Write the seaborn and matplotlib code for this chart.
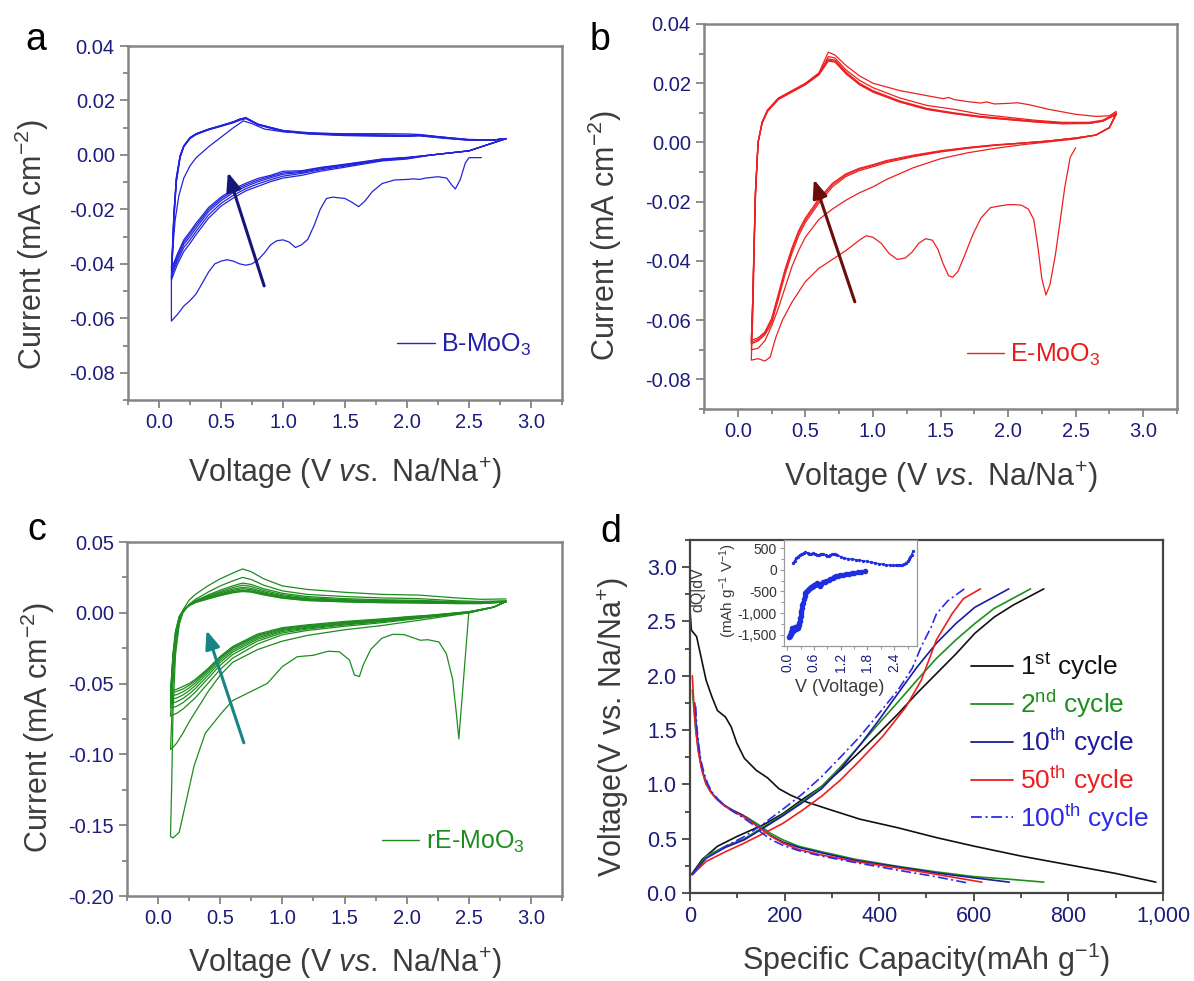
import numpy as np
import pandas as pd
import matplotlib
matplotlib.use("Agg")
import matplotlib.pyplot as plt
import seaborn as sns
from matplotlib.ticker import MultipleLocator, FuncFormatter, FormatStrFormatter
from matplotlib.lines import Line2D

# ---------------- Panel a: B-MoO3 ----------------
A_C1_V = [2.60, 2.50, 2.47, 2.43, 2.39, 2.36, 2.32, 2.25, 2.15, 2.10, 2.05, 2.00, 1.90, 1.80, 1.72, 1.66, 1.61, 1.56, 1.50, 1.40,
          1.35, 1.30, 1.25, 1.20, 1.15, 1.10, 1.05, 1.00, 0.95, 0.90, 0.85, 0.80, 0.75, 0.70, 0.65, 0.60, 0.55, 0.50, 0.45, 0.40,
          0.35, 0.30, 0.25, 0.20, 0.15, 0.10]
A_C1_I = [-0.0010, -0.0010, -0.0030, -0.0090, -0.0125, -0.0110, -0.0085, -0.0080, -0.0085, -0.0090, -0.0088, -0.0090, -0.0092,
          -0.0105, -0.0135, -0.0170, -0.0190, -0.0175, -0.0160, -0.0155, -0.0160, -0.0200, -0.0260, -0.0310, -0.0330, -0.0340,
          -0.0320, -0.0312, -0.0315, -0.0330, -0.0360, -0.0385, -0.0400, -0.0405, -0.0400, -0.0390, -0.0385, -0.0390, -0.0400,
          -0.0430, -0.0470, -0.0510, -0.0535, -0.0555, -0.0585, -0.0610]
A_A1_V = [0.10, 0.10, 0.11, 0.13, 0.16, 0.20, 0.25, 0.30, 0.40, 0.50, 0.60, 0.68, 0.75, 0.85, 1.00, 1.20, 1.50, 1.80, 2.00, 2.10,
          2.30, 2.50, 2.70, 2.80]
A_A1_I = [-0.0610, -0.0450, -0.0350, -0.0240, -0.0150, -0.0085, -0.0040, -0.0010, 0.0030, 0.0065, 0.0100, 0.0125, 0.0115, 0.0095,
          0.0085, 0.0080, 0.0078, 0.0078, 0.0077, 0.0075, 0.0065, 0.0055, 0.0055, 0.0060]
A_CATH_V = [2.80, 2.70, 2.50, 2.20, 2.00, 1.80, 1.50, 1.30, 1.15, 1.00, 0.90, 0.80, 0.70, 0.60, 0.50, 0.40, 0.35, 0.30, 0.25, 0.20,
            0.15, 0.12, 0.10]
A_CATH = {
    2: [0.0060, 0.0045, 0.0015, 0.0000, -0.0015, -0.0022, -0.0045, -0.0060, -0.0075, -0.0085, -0.0098, -0.0115, -0.0132, -0.0158,
        -0.0188, -0.0232, -0.0262, -0.0292, -0.0325, -0.0355, -0.0400, -0.0435, -0.0460],
    3: [0.0060, 0.0045, 0.0015, 0.0000, -0.0013, -0.0020, -0.0041, -0.0055, -0.0068, -0.0078, -0.0091, -0.0106, -0.0124, -0.0148,
        -0.0178, -0.0220, -0.0250, -0.0280, -0.0312, -0.0340, -0.0388, -0.0422, -0.0448],
    4: [0.0060, 0.0045, 0.0015, 0.0000, -0.0011, -0.0018, -0.0038, -0.0051, -0.0064, -0.0071, -0.0084, -0.0098, -0.0116, -0.0138,
        -0.0168, -0.0208, -0.0238, -0.0268, -0.0300, -0.0328, -0.0378, -0.0412, -0.0435],
    5: [0.0060, 0.0045, 0.0015, 0.0000, -0.0010, -0.0016, -0.0036, -0.0048, -0.0061, -0.0066, -0.0079, -0.0092, -0.0110, -0.0131,
        -0.0161, -0.0200, -0.0230, -0.0258, -0.0290, -0.0320, -0.0370, -0.0404, -0.0425],
    6: [0.0060, 0.0045, 0.0015, 0.0000, -0.0009, -0.0015, -0.0034, -0.0046, -0.0058, -0.0060, -0.0075, -0.0086, -0.0104, -0.0125,
        -0.0155, -0.0193, -0.0222, -0.0250, -0.0282, -0.0312, -0.0362, -0.0396, -0.0415],
}
A_ANOD_V = [0.10, 0.11, 0.12, 0.14, 0.17, 0.20, 0.25, 0.30, 0.40, 0.50, 0.60, 0.65, 0.70, 0.80, 1.00, 1.20, 1.50, 1.80, 2.00, 2.10,
            2.30, 2.50, 2.70, 2.80]
A_ANOD = {
    2: [-0.0460, -0.0360, -0.0240, -0.0100, -0.0010, 0.0030, 0.0060, 0.0075, 0.0092, 0.0105, 0.0118, 0.0127, 0.0133, 0.0112,
        0.0090, 0.0082, 0.0076, 0.0073, 0.0072, 0.0072, 0.0065, 0.0057, 0.0055, 0.0060],
    3: [-0.0448, -0.0350, -0.0232, -0.0095, -0.0008, 0.0031, 0.0061, 0.0076, 0.0093, 0.0106, 0.0120, 0.0130, 0.0136, 0.0113,
        0.0089, 0.0080, 0.0074, 0.0072, 0.0071, 0.0074, 0.0064, 0.0056, 0.0055, 0.0060],
    4: [-0.0435, -0.0340, -0.0225, -0.0090, -0.0006, 0.0032, 0.0062, 0.0077, 0.0094, 0.0107, 0.0121, 0.0131, 0.0137, 0.0112,
        0.0088, 0.0079, 0.0073, 0.0071, 0.0070, 0.0072, 0.0063, 0.0055, 0.0055, 0.0060],
    5: [-0.0425, -0.0330, -0.0218, -0.0086, -0.0004, 0.0033, 0.0063, 0.0078, 0.0094, 0.0107, 0.0121, 0.0131, 0.0136, 0.0111,
        0.0087, 0.0078, 0.0072, 0.0070, 0.0069, 0.0071, 0.0062, 0.0054, 0.0055, 0.0060],
    6: [-0.0415, -0.0322, -0.0212, -0.0082, -0.0002, 0.0034, 0.0064, 0.0078, 0.0095, 0.0108, 0.0122, 0.0131, 0.0135, 0.0110,
        0.0086, 0.0077, 0.0071, 0.0069, 0.0068, 0.0070, 0.0061, 0.0054, 0.0055, 0.0060],
}

# ---------------- Panel b: E-MoO3 ----------------
B_C1_V = [2.50, 2.46, 2.42, 2.39, 2.35, 2.31, 2.28, 2.25, 2.22, 2.19, 2.15, 2.10, 2.05, 2.00, 1.93, 1.87, 1.80, 1.74, 1.68, 1.63,
          1.59, 1.56, 1.52, 1.48, 1.44, 1.39, 1.34, 1.29, 1.24, 1.18, 1.12, 1.06, 1.00, 0.95, 0.90, 0.80, 0.70, 0.60, 0.50, 0.40,
          0.33, 0.28, 0.24, 0.20, 0.15, 0.10]
B_C1_I = [-0.0018, -0.0050, -0.0150, -0.0250, -0.0380, -0.0480, -0.0515, -0.0460, -0.0350, -0.0260, -0.0225, -0.0212, -0.0210,
          -0.0210, -0.0215, -0.0220, -0.0255, -0.0310, -0.0380, -0.0435, -0.0455, -0.0450, -0.0410, -0.0360, -0.0330, -0.0325,
          -0.0340, -0.0370, -0.0390, -0.0395, -0.0375, -0.0340, -0.0320, -0.0315, -0.0330, -0.0365, -0.0395, -0.0425, -0.0470,
          -0.0540, -0.0600, -0.0660, -0.0725, -0.0738, -0.0730, -0.0735]
B_A1_V = [0.10, 0.11, 0.12, 0.13, 0.15, 0.18, 0.22, 0.30, 0.40, 0.50, 0.60, 0.67, 0.72, 0.80, 0.90, 1.00, 1.20, 1.40, 1.52, 1.56,
          1.60, 1.70, 1.80, 1.84, 1.90, 2.00, 2.07, 2.15, 2.30, 2.50, 2.65, 2.75, 2.80]
B_A1_I = [-0.0735, -0.0600, -0.0400, -0.0200, 0.0000, 0.0070, 0.0110, 0.0150, 0.0175, 0.0200, 0.0235, 0.0305, 0.0295, 0.0260,
          0.0225, 0.0200, 0.0175, 0.0158, 0.0148, 0.0152, 0.0145, 0.0138, 0.0133, 0.0137, 0.0130, 0.0132, 0.0134, 0.0128, 0.0112,
          0.0095, 0.0088, 0.0090, 0.0105]
B_CATH_V = [2.80, 2.75, 2.65, 2.50, 2.30, 2.10, 1.90, 1.70, 1.50, 1.30, 1.10, 1.00, 0.90, 0.80, 0.70, 0.60, 0.50, 0.45, 0.40, 0.35,
            0.30, 0.25, 0.20, 0.15, 0.10]
B_CATH = {
    2: [0.0095, 0.0050, 0.0025, 0.0012, 0.0002, -0.0008, -0.0020, -0.0035, -0.0055, -0.0085, -0.0125, -0.0150, -0.0170, -0.0195,
        -0.0225, -0.0260, -0.0320, -0.0365, -0.0420, -0.0490, -0.0560, -0.0620, -0.0670, -0.0695, -0.0700],
    3: [0.0095, 0.0050, 0.0025, 0.0015, 0.0005, -0.0003, -0.0010, -0.0020, -0.0032, -0.0048, -0.0068, -0.0082, -0.0095, -0.0115,
        -0.0150, -0.0205, -0.0270, -0.0315, -0.0375, -0.0445, -0.0530, -0.0610, -0.0650, -0.0670, -0.0680],
    4: [0.0098, 0.0050, 0.0025, 0.0015, 0.0005, -0.0002, -0.0009, -0.0018, -0.0030, -0.0045, -0.0064, -0.0078, -0.0090, -0.0110,
        -0.0143, -0.0197, -0.0262, -0.0305, -0.0365, -0.0435, -0.0520, -0.0600, -0.0645, -0.0665, -0.0675],
    5: [0.0100, 0.0050, 0.0025, 0.0015, 0.0005, -0.0002, -0.0008, -0.0017, -0.0028, -0.0043, -0.0061, -0.0075, -0.0087, -0.0106,
        -0.0138, -0.0190, -0.0255, -0.0298, -0.0357, -0.0428, -0.0512, -0.0595, -0.0640, -0.0660, -0.0668],
}
B_ANOD_V = [0.10, 0.11, 0.12, 0.13, 0.15, 0.18, 0.22, 0.30, 0.40, 0.50, 0.60, 0.67, 0.72, 0.80, 0.90, 1.00, 1.20, 1.40, 1.60, 1.80,
            2.00, 2.20, 2.40, 2.60, 2.70, 2.80]
B_ANOD = {
    2: [-0.0700, -0.0560, -0.0370, -0.0180, 0.0000, 0.0068, 0.0108, 0.0148, 0.0173, 0.0198, 0.0232, 0.0290, 0.0285, 0.0245, 0.0210,
        0.0185, 0.0150, 0.0125, 0.0112, 0.0095, 0.0085, 0.0075, 0.0068, 0.0068, 0.0075, 0.0100],
    3: [-0.0680, -0.0545, -0.0360, -0.0175, 0.0000, 0.0067, 0.0107, 0.0147, 0.0172, 0.0197, 0.0230, 0.0282, 0.0278, 0.0238, 0.0200,
        0.0175, 0.0140, 0.0115, 0.0100, 0.0088, 0.0080, 0.0072, 0.0066, 0.0066, 0.0072, 0.0095],
    4: [-0.0675, -0.0540, -0.0355, -0.0172, 0.0000, 0.0066, 0.0106, 0.0146, 0.0171, 0.0196, 0.0229, 0.0278, 0.0274, 0.0235, 0.0197,
        0.0172, 0.0138, 0.0113, 0.0098, 0.0086, 0.0078, 0.0070, 0.0064, 0.0065, 0.0072, 0.0095],
    5: [-0.0668, -0.0535, -0.0350, -0.0170, 0.0000, 0.0065, 0.0105, 0.0145, 0.0170, 0.0195, 0.0228, 0.0275, 0.0271, 0.0232, 0.0195,
        0.0170, 0.0136, 0.0111, 0.0097, 0.0085, 0.0077, 0.0069, 0.0063, 0.0064, 0.0072, 0.0095],
}

# ---------------- Panel c: rE-MoO3 ----------------
C_C1_V = [2.50, 2.42, 2.40, 2.37, 2.32, 2.26, 2.17, 2.11, 1.98, 1.89, 1.80, 1.71, 1.65, 1.62, 1.58, 1.54, 1.46, 1.37, 1.25, 1.12,
          1.00, 0.88, 0.72, 0.60, 0.51, 0.38, 0.29, 0.23, 0.17, 0.12, 0.10]
C_C1_I = [0.0000, -0.0890, -0.0710, -0.0470, -0.0290, -0.0206, -0.0190, -0.0194, -0.0154, -0.0152, -0.0180, -0.0260, -0.0370,
          -0.0450, -0.0440, -0.0334, -0.0276, -0.0271, -0.0300, -0.0310, -0.0380, -0.0498, -0.0568, -0.0620, -0.0708, -0.0850,
          -0.1080, -0.1315, -0.1550, -0.1590, -0.1580]
C_A1_V = [0.10, 0.11, 0.12, 0.14, 0.17, 0.20, 0.25, 0.30, 0.40, 0.50, 0.55, 0.60, 0.68, 0.75, 0.85, 1.00, 1.20, 1.50, 1.80, 2.10,
          2.40, 2.60, 2.80]
C_A1_I = [-0.1580, -0.1200, -0.0700, -0.0300, -0.0080, 0.0020, 0.0090, 0.0130, 0.0190, 0.0240, 0.0260, 0.0280, 0.0310, 0.0290,
          0.0240, 0.0190, 0.0165, 0.0145, 0.0130, 0.0125, 0.0105, 0.0095, 0.0098]
C_CATH_V = [2.80, 2.70, 2.50, 2.20, 2.00, 1.80, 1.50, 1.20, 1.00, 0.80, 0.60, 0.50, 0.40, 0.30, 0.25, 0.20, 0.15, 0.12, 0.10]
C_CATH = {
    2: [0.0080, 0.0040, 0.0000, -0.0040, -0.0065, -0.0090, -0.0120, -0.0160, -0.0200, -0.0260, -0.0350, -0.0440, -0.0560, -0.0700,
        -0.0770, -0.0850, -0.0920, -0.0950, -0.0965],
    3: [0.0080, 0.0040, 0.0000, -0.0030, -0.0050, -0.0070, -0.0095, -0.0125, -0.0155, -0.0220, -0.0320, -0.0400, -0.0500, -0.0600,
        -0.0640, -0.0680, -0.0710, -0.0720, -0.0730],
    4: [0.0080, 0.0040, 0.0000, -0.0026, -0.0044, -0.0063, -0.0086, -0.0115, -0.0142, -0.0200, -0.0295, -0.0370, -0.0465, -0.0560,
        -0.0600, -0.0635, -0.0660, -0.0668, -0.0672],
    5: [0.0080, 0.0040, 0.0003, -0.0023, -0.0040, -0.0058, -0.0080, -0.0108, -0.0132, -0.0187, -0.0278, -0.0350, -0.0443, -0.0535,
        -0.0573, -0.0605, -0.0628, -0.0635, -0.0638],
    6: [0.0080, 0.0040, 0.0005, -0.0021, -0.0037, -0.0054, -0.0075, -0.0102, -0.0124, -0.0176, -0.0265, -0.0335, -0.0425, -0.0513,
        -0.0550, -0.0580, -0.0602, -0.0608, -0.0610],
    7: [0.0080, 0.0040, 0.0006, -0.0019, -0.0034, -0.0050, -0.0070, -0.0096, -0.0117, -0.0166, -0.0253, -0.0322, -0.0410, -0.0495,
        -0.0530, -0.0558, -0.0578, -0.0584, -0.0585],
    8: [0.0080, 0.0040, 0.0007, -0.0018, -0.0031, -0.0047, -0.0066, -0.0091, -0.0111, -0.0158, -0.0245, -0.0315, -0.0402, -0.0480,
        -0.0512, -0.0538, -0.0555, -0.0562, -0.0565],
    9: [0.0080, 0.0040, 0.0008, -0.0016, -0.0028, -0.0043, -0.0061, -0.0085, -0.0105, -0.0150, -0.0238, -0.0308, -0.0395, -0.0470,
        -0.0500, -0.0520, -0.0540, -0.0547, -0.0550],
}
C_ANOD_V = [0.10, 0.11, 0.12, 0.14, 0.17, 0.20, 0.25, 0.30, 0.40, 0.50, 0.60, 0.68, 0.75, 0.85, 1.00, 1.20, 1.50, 1.80, 2.10, 2.40,
            2.60, 2.80]
C_ANOD = {
    2: [-0.0965, -0.0750, -0.0500, -0.0250, -0.0080, 0.0000, 0.0060, 0.0095, 0.0145, 0.0190, 0.0225, 0.0250, 0.0235, 0.0195,
        0.0155, 0.0130, 0.0115, 0.0105, 0.0100, 0.0085, 0.0080, 0.0085],
    3: [-0.0730, -0.0580, -0.0400, -0.0200, -0.0060, 0.0005, 0.0055, 0.0085, 0.0125, 0.0160, 0.0190, 0.0210, 0.0200, 0.0170,
        0.0138, 0.0115, 0.0100, 0.0092, 0.0088, 0.0078, 0.0075, 0.0082],
    4: [-0.0672, -0.0530, -0.0360, -0.0180, -0.0050, 0.0008, 0.0055, 0.0082, 0.0118, 0.0150, 0.0178, 0.0195, 0.0186, 0.0158,
        0.0128, 0.0106, 0.0093, 0.0086, 0.0083, 0.0074, 0.0072, 0.0080],
    5: [-0.0638, -0.0500, -0.0340, -0.0170, -0.0045, 0.0010, 0.0054, 0.0080, 0.0112, 0.0142, 0.0167, 0.0180, 0.0173, 0.0148,
        0.0120, 0.0100, 0.0088, 0.0082, 0.0079, 0.0071, 0.0070, 0.0079],
    6: [-0.0610, -0.0480, -0.0320, -0.0160, -0.0040, 0.0012, 0.0053, 0.0078, 0.0107, 0.0135, 0.0158, 0.0170, 0.0164, 0.0140,
        0.0114, 0.0095, 0.0084, 0.0078, 0.0076, 0.0069, 0.0068, 0.0078],
    7: [-0.0585, -0.0460, -0.0310, -0.0150, -0.0035, 0.0014, 0.0052, 0.0076, 0.0103, 0.0129, 0.0151, 0.0160, 0.0155, 0.0134,
        0.0109, 0.0091, 0.0081, 0.0075, 0.0073, 0.0067, 0.0067, 0.0077],
    8: [-0.0565, -0.0440, -0.0300, -0.0140, -0.0030, 0.0015, 0.0051, 0.0074, 0.0100, 0.0125, 0.0146, 0.0155, 0.0150, 0.0130,
        0.0106, 0.0088, 0.0079, 0.0073, 0.0071, 0.0066, 0.0066, 0.0077],
    9: [-0.0550, -0.0430, -0.0290, -0.0130, -0.0025, 0.0016, 0.0050, 0.0072, 0.0097, 0.0121, 0.0141, 0.0150, 0.0146, 0.0126,
        0.0103, 0.0086, 0.0077, 0.0071, 0.0069, 0.0065, 0.0065, 0.0076],
}

# ---------------- Panel d: galvanostatic curves ----------------
D1_DIS_X = [0, 3, 14, 22, 34, 46, 58, 75, 87, 99, 115, 140, 164, 188, 213, 245, 294, 359, 440, 521, 602, 700, 800, 900, 985]
D1_DIS_Y = [2.60, 2.42, 2.36, 2.20, 1.96, 1.81, 1.68, 1.62, 1.53, 1.38, 1.24, 1.13, 1.06, 0.96, 0.90, 0.84, 0.77, 0.68, 0.60,
            0.51, 0.43, 0.34, 0.26, 0.18, 0.10]
D1_CHG_X = [3, 26, 58, 99, 156, 196, 237, 278, 318, 359, 399, 440, 480, 521, 562, 602, 643, 683, 748]
D1_CHG_Y = [0.17, 0.31, 0.43, 0.52, 0.63, 0.73, 0.86, 0.98, 1.13, 1.30, 1.47, 1.65, 1.84, 2.02, 2.20, 2.39, 2.54, 2.65, 2.80]

D2_DIS_X = [5, 8, 12, 18, 26, 34, 46, 58, 75, 91, 110, 123, 148, 170, 196, 230, 278, 350, 440, 520, 602, 680, 748]
D2_DIS_Y = [1.87, 1.70, 1.50, 1.30, 1.12, 1.00, 0.92, 0.86, 0.80, 0.76, 0.72, 0.69, 0.62, 0.55, 0.49, 0.43, 0.38, 0.31, 0.245,
            0.195, 0.15, 0.125, 0.10]
D2_CHG_X = [5, 34, 75, 115, 156, 196, 237, 278, 318, 359, 399, 440, 480, 521, 562, 602, 643, 720]
D2_CHG_Y = [0.17, 0.34, 0.43, 0.50, 0.61, 0.72, 0.84, 0.98, 1.16, 1.36, 1.56, 1.76, 1.96, 2.16, 2.33, 2.48, 2.62, 2.80]

D10_DIS_X = [10, 13, 17, 22, 28, 36, 46, 58, 75, 91, 110, 123, 148, 170, 196, 230, 278, 350, 440, 520, 600, 675]
D10_DIS_Y = [1.75, 1.55, 1.38, 1.22, 1.10, 1.00, 0.92, 0.86, 0.80, 0.76, 0.72, 0.68, 0.60, 0.53, 0.47, 0.42, 0.37, 0.30, 0.24,
             0.185, 0.14, 0.10]
D10_CHG_X = [5, 34, 75, 115, 156, 196, 237, 278, 318, 359, 399, 440, 480, 521, 562, 602, 674]
D10_CHG_Y = [0.17, 0.32, 0.42, 0.49, 0.60, 0.71, 0.83, 0.96, 1.14, 1.36, 1.59, 1.84, 2.08, 2.30, 2.48, 2.63, 2.80]

D50_DIS_X = [5, 8, 12, 17, 24, 32, 42, 55, 70, 88, 110, 125, 150, 172, 196, 230, 278, 350, 440, 530, 617]
D50_DIS_Y = [2.00, 1.75, 1.52, 1.32, 1.15, 1.03, 0.94, 0.87, 0.81, 0.76, 0.71, 0.67, 0.59, 0.52, 0.46, 0.40, 0.35, 0.29, 0.23,
             0.165, 0.10]
D50_CHG_X = [5, 34, 75, 115, 156, 196, 237, 278, 318, 359, 407, 456, 489, 521, 554, 578, 614]
D50_CHG_Y = [0.17, 0.29, 0.38, 0.46, 0.55, 0.64, 0.76, 0.89, 1.04, 1.22, 1.44, 1.71, 1.96, 2.33, 2.57, 2.71, 2.80]

D100_DIS_X = [12, 14, 18, 23, 30, 38, 48, 60, 75, 91, 110, 130, 150, 172, 196, 230, 278, 350, 440, 520, 590]
D100_DIS_Y = [1.72, 1.55, 1.38, 1.22, 1.10, 1.00, 0.92, 0.86, 0.80, 0.75, 0.70, 0.64, 0.56, 0.49, 0.44, 0.39, 0.34, 0.28, 0.21,
              0.15, 0.09]
D100_CHG_X = [5, 34, 75, 115, 156, 196, 237, 278, 318, 359, 399, 440, 470, 489, 510, 521, 545, 580]
D100_CHG_Y = [0.17, 0.32, 0.43, 0.52, 0.64, 0.77, 0.91, 1.07, 1.25, 1.44, 1.65, 1.87, 2.07, 2.27, 2.45, 2.57, 2.69, 2.80]

D_LABELS = [r"1$^{\rm st}$ cycle", r"2$^{\rm nd}$ cycle", r"10$^{\rm th}$ cycle", r"50$^{\rm th}$ cycle", r"100$^{\rm th}$ cycle"]

# inset dQ/dV
IN_CHG_V = [0.13, 0.17, 0.20, 0.24, 0.28, 0.33, 0.38, 0.41, 0.46, 0.50, 0.54, 0.59, 0.63, 0.67, 0.72, 0.76, 0.81, 0.86, 0.90, 0.93,
            0.97, 1.01, 1.04, 1.08, 1.12, 1.20, 1.28, 1.36, 1.45, 1.54, 1.62, 1.71, 1.80, 1.88, 1.97, 2.05, 2.14, 2.22, 2.31, 2.38,
            2.44, 2.49, 2.54, 2.58, 2.62, 2.66, 2.70, 2.73, 2.76, 2.79, 2.82]
IN_CHG_Q = [154, 210, 270, 300, 340, 369, 385, 400, 390, 370, 369, 380, 370, 350, 346, 369, 360, 346, 320, 308, 330, 360, 369, 355,
            340, 300, 269, 255, 245, 232, 222, 205, 190, 175, 154, 140, 128, 115, 105, 100, 98, 100, 105, 115, 130, 154, 190, 240,
            290, 350, 423]
IN_DIS_V = [1.75, 1.66, 1.58, 1.50, 1.45, 1.38, 1.32, 1.26, 1.19, 1.14, 1.10, 1.06, 1.02, 0.97, 0.93, 0.88, 0.84, 0.80, 0.76, 0.73,
            0.71, 0.69, 0.67, 0.65, 0.63, 0.61, 0.59, 0.57, 0.55, 0.53, 0.51, 0.49, 0.47, 0.45, 0.43, 0.41, 0.39, 0.37, 0.35, 0.34,
            0.33, 0.32, 0.31, 0.30, 0.29, 0.28, 0.27, 0.26, 0.25, 0.24, 0.23, 0.22, 0.21, 0.20, 0.19, 0.18, 0.17, 0.16, 0.15, 0.14,
            0.13, 0.12, 0.11, 0.10, 0.09, 0.08, 0.07, 0.06, 0.05]
IN_DIS_Q = [-38, -50, -62, -70, -77, -88, -100, -112, -123, -140, -154, -172, -192, -210, -231, -255, -275, -292, -330, -369, -360,
            -330, -308, -320, -346, -360, -372, -385, -395, -405, -430, -450, -462, -490, -515, -538, -600, -680, -769, -820,
            -880, -940, -1000, -1060, -1120, -1180, -1231, -1270, -1300, -1330, -1346, -1340, -1360, -1346, -1320, -1308, -1330,
            -1360, -1385, -1400, -1380, -1350, -1385, -1420, -1440, -1470, -1500, -1520, -1538]

# arrows (tail, head) in data units
ARROW_A = [(0.848, -0.0481), (0.555, -0.0064)]
ARROW_B = [(0.866, -0.0538), (0.563, -0.0125)]
ARROW_C = [(0.690, -0.0918), (0.390, -0.0124)]

# ---------------- styling ----------------
sns.set_theme(style="ticks")
plt.rcParams["font.family"] = ["Liberation Sans", "DejaVu Sans"]
plt.rcParams["mathtext.fontset"] = "custom"
plt.rcParams["mathtext.rm"] = "Liberation Sans"
plt.rcParams["mathtext.it"] = "Liberation Sans:italic"
plt.rcParams["mathtext.bf"] = "Liberation Sans:bold"
plt.rcParams["axes.unicode_minus"] = False

NAVY = "#1c1c7c"
LABEL = "#3c3c3c"
SPINE = "#858585"

W, H = 1194, 981
fig = plt.figure(figsize=(W / 100, H / 100), dpi=100)
fig.patch.set_facecolor("white")


def rect(l, t, r, b):
    return [l / W, 1 - b / H, (r - l) / W, (b - t) / H]


ax_a = fig.add_axes(rect(128, 46, 562, 400))
ax_b = fig.add_axes(rect(704, 24, 1177, 409))
ax_c = fig.add_axes(rect(127, 542, 562, 896))
ax_d = fig.add_axes(rect(690, 540, 1163, 893))


def cv_frame(c1v, c1i, a1v, a1i, cv, cdict, av, adict):
    frames = [pd.DataFrame({"V": list(c1v) + list(a1v), "I": list(c1i) + list(a1i), "cycle": 1})]
    for k in cdict:
        frames.append(pd.DataFrame({"V": list(cv) + list(av), "I": list(cdict[k]) + list(adict[k]), "cycle": k}))
    return pd.concat(frames, ignore_index=True)


def style_cv(ax, ylim, ymaj, ymin, xlab_y, ylab_xy):
    ax.set_xlim(-0.25, 3.25)
    ax.set_ylim(*ylim)
    ax.xaxis.set_major_locator(MultipleLocator(0.5))
    ax.xaxis.set_minor_locator(MultipleLocator(0.25))
    ax.yaxis.set_major_locator(MultipleLocator(ymaj))
    ax.yaxis.set_minor_locator(MultipleLocator(ymin))
    ax.xaxis.set_major_formatter(FormatStrFormatter("%.1f"))
    ax.yaxis.set_major_formatter(FormatStrFormatter("%.2f"))
    ax.tick_params(which="both", direction="out", color=SPINE, width=1.3, labelcolor=NAVY, labelsize=14.5,
                   bottom=True, left=True, top=False, right=False)
    ax.tick_params(which="major", length=5.5, pad=4)
    ax.tick_params(which="minor", length=3.5)
    for sp in ax.spines.values():
        sp.set_color(SPINE)
        sp.set_linewidth(1.8)
    ax.set_xlabel(r"Voltage (V $\mathit{vs.}$ Na/Na$^{+}$)", fontsize=22, color=LABEL)
    ax.set_ylabel(r"Current (mA cm$^{-2}$)", fontsize=22, color=LABEL)
    ax.xaxis.label.set_va("center")
    ax.yaxis.label.set_va("center")
    ax.xaxis.set_label_coords(0.5, xlab_y)
    ax.yaxis.set_label_coords(*ylab_xy)


def draw_cv(ax, df, color, arrow, acolor, name, tcolor, leg_xy):
    sns.lineplot(data=df, x="V", y="I", units="cycle", estimator=None, sort=False, color=color, lw=0.9,
                 ax=ax, legend=False)
    ax.annotate("", xy=arrow[1], xytext=arrow[0],
                arrowprops=dict(arrowstyle="-|>,head_length=0.55,head_width=0.22", color=acolor, lw=2.2,
                                shrinkA=0, shrinkB=0, mutation_scale=20))
    h = [Line2D([], [], color=color, lw=1.0)]
    ax.legend(h, [name], loc="center left", bbox_to_anchor=leg_xy, frameon=False, fontsize=18,
              handlelength=1.5, handletextpad=0.25, borderpad=0, borderaxespad=0, labelcolor=[tcolor])


df_a = cv_frame(A_C1_V, A_C1_I, A_A1_V, A_A1_I, A_CATH_V, A_CATH, A_ANOD_V, A_ANOD)
df_b = cv_frame(B_C1_V, B_C1_I, B_A1_V, B_A1_I, B_CATH_V, B_CATH, B_ANOD_V, B_ANOD)
df_c = cv_frame(C_C1_V, C_C1_I, C_A1_V, C_A1_I, C_CATH_V, C_CATH, C_ANOD_V, C_ANOD)

draw_cv(ax_a, df_a, "#2323dd", ARROW_A, "#16167a", r"B-MoO$_3$", "#2020a8", (0.62, 0.155))
style_cv(ax_a, (-0.09, 0.04), 0.02, 0.01, -0.206, (-0.221, 0.44))

draw_cv(ax_b, df_b, "#ee2020", ARROW_B, "#6a0d0d", r"E-MoO$_3$", "#e81c1c", (0.555, 0.14))
style_cv(ax_b, (-0.09, 0.04), 0.02, 0.01, -0.177, (-0.209, 0.452))

draw_cv(ax_c, df_c, "#1e8c1e", ARROW_C, "#178585", r"rE-MoO$_3$", "#1e8c1e", (0.586, 0.152))
style_cv(ax_c, (-0.20, 0.05), 0.05, 0.025, -0.189, (-0.205, 0.475))

# ---------------- panel d ----------------
d_series = [
    (D1_DIS_X, D1_DIS_Y, D1_CHG_X, D1_CHG_Y, "#111111", "-"),
    (D2_DIS_X, D2_DIS_Y, D2_CHG_X, D2_CHG_Y, "#1f8f1f", "-"),
    (D10_DIS_X, D10_DIS_Y, D10_CHG_X, D10_CHG_Y, "#1c1c9c", "-"),
    (D50_DIS_X, D50_DIS_Y, D50_CHG_X, D50_CHG_Y, "#ec2020", "-"),
    (D100_DIS_X, D100_DIS_Y, D100_CHG_X, D100_CHG_Y, "#2b2bea", (0, (6, 2, 1.2, 2))),
]
handles = []
for dx, dy, cx, cy, col, ls in d_series:
    sns.lineplot(x=dx, y=dy, sort=False, estimator=None, color=col, lw=1.2, linestyle=ls, ax=ax_d)
    sns.lineplot(x=cx, y=cy, sort=False, estimator=None, color=col, lw=1.2, linestyle=ls, ax=ax_d)
    handles.append(Line2D([], [], color=col, lw=1.3, linestyle=ls))

ax_d.set_xlim(0, 1000)
ax_d.set_ylim(0, 3.25)
ax_d.xaxis.set_major_locator(MultipleLocator(200))
ax_d.xaxis.set_minor_locator(MultipleLocator(100))
ax_d.yaxis.set_major_locator(MultipleLocator(0.5))
ax_d.yaxis.set_minor_locator(MultipleLocator(0.25))
ax_d.xaxis.set_major_formatter(FuncFormatter(lambda v, p: f"{int(round(v)):,}"))
ax_d.yaxis.set_major_formatter(FormatStrFormatter("%.1f"))
ax_d.tick_params(which="both", direction="out", color="#444444", width=1.3, labelcolor=NAVY, labelsize=15.5,
                 bottom=True, left=True, top=False, right=False)
ax_d.tick_params(which="major", length=5.5, pad=4)
ax_d.tick_params(which="minor", length=3.5)
for sp in ax_d.spines.values():
    sp.set_color("#444444")
    sp.set_linewidth(1.6)
ax_d.set_xlabel(r"Specific Capacity(mAh g$^{-1}$)", fontsize=22, color=LABEL)
ax_d.set_ylabel(r"Voltage(V vs. Na/Na$^{+}$)", fontsize=22, color=LABEL)
ax_d.xaxis.label.set_va("center")
ax_d.yaxis.label.set_va("center")
ax_d.xaxis.set_label_coords(0.5, -0.19)
ax_d.yaxis.set_label_coords(-0.163, 0.47)
ax_d.legend(handles, D_LABELS, loc="upper left", bbox_to_anchor=(0.594, 0.685), frameon=False, fontsize=19,
            handlelength=1.6, handletextpad=0.25, labelspacing=0.22, borderpad=0, borderaxespad=0,
            labelcolor=[s[4] for s in d_series])

# ---------------- inset ----------------
ax_in = fig.add_axes(rect(784, 540, 917, 646))
ax_in.set_facecolor("white")
sns.lineplot(x=IN_CHG_V, y=IN_CHG_Q, sort=False, estimator=None, color="#1f2fe0", lw=1.0, marker="o",
             markersize=2.4, markeredgewidth=0, ax=ax_in)
sns.lineplot(x=IN_DIS_V, y=IN_DIS_Q, sort=False, estimator=None, color="#1f2fe0", lw=1.0, marker="o",
             markersize=4, markeredgewidth=0, ax=ax_in)
ax_in.set_xlim(-0.07, 2.91)
ax_in.set_ylim(-1753, 684)
ax_in.xaxis.set_major_locator(MultipleLocator(0.6))
ax_in.xaxis.set_minor_locator(MultipleLocator(0.3))
ax_in.yaxis.set_major_locator(MultipleLocator(500))
ax_in.yaxis.set_minor_locator(MultipleLocator(250))
ax_in.xaxis.set_major_formatter(FormatStrFormatter("%.1f"))
ax_in.yaxis.set_major_formatter(FuncFormatter(lambda v, p: f"{int(round(v)):,}"))
ax_in.tick_params(which="both", direction="out", color="#999999", width=0.8, labelsize=10,
                  bottom=True, left=True, top=False, right=False, pad=2)
ax_in.tick_params(which="major", length=3)
ax_in.tick_params(which="minor", length=2)
ax_in.tick_params(axis="x", labelrotation=90, labelcolor=NAVY)
ax_in.tick_params(axis="y", labelcolor="#333333")
for sp in ax_in.spines.values():
    sp.set_color("#9a9a9a")
    sp.set_linewidth(0.9)
ax_in.set_xlabel("V (Voltage)", fontsize=13, color=LABEL)
ax_in.xaxis.label.set_va("center")
ax_in.xaxis.set_label_coords(0.42, -0.387)
ax_in.set_ylabel("")
ax_in.text(-0.421, 0.528, r"(mAh g$^{-1}$ V$^{-1}$)", rotation=90, fontsize=11, color=LABEL,
           ha="center", va="center", transform=ax_in.transAxes)
ax_in.text(-0.647, 0.528, "dQ|dV", rotation=90, fontsize=11.5, color=LABEL,
           ha="center", va="center", transform=ax_in.transAxes)

# ---------------- panel letters ----------------
for letter, (px, py) in zip("abcd", [(25, 50), (590, 50), (27, 540), (600, 542)]):
    fig.text(px / W, 1 - py / H, letter, fontsize=27, color="black", ha="left", va="baseline")

fig.savefig("out.png", dpi=100, facecolor="white")
